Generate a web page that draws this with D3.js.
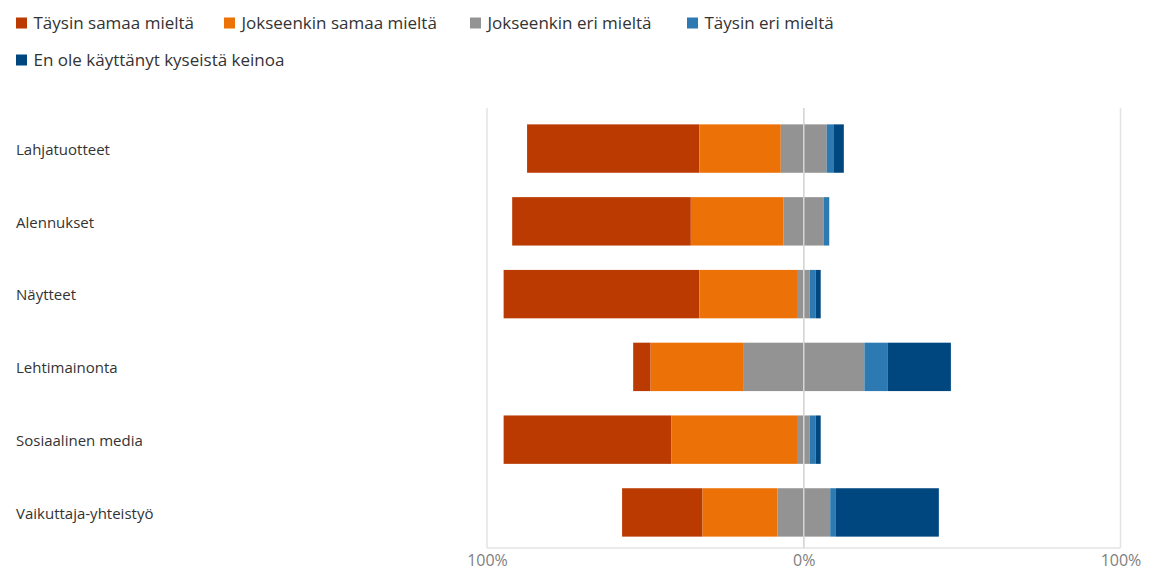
<!DOCTYPE html>
<html>
<head>
<meta charset="utf-8">
<script src="https://cdn.jsdelivr.net/npm/d3@7"></script>
<style>
  body { margin: 0; background: #fff; }
  svg { font-family: "Open Sans", "Noto Sans", sans-serif; }
</style>
</head>
<body>
<div id="chart"></div>
<script>
const categories = ['Lahjatuotteet', 'Alennukset', 'Näytteet', 'Lehtimainonta', 'Sosiaalinen media', 'Vaikuttaja-yhteistyö'];
const seriesNames = ['Täysin samaa mieltä', 'Jokseenkin samaa mieltä', 'Jokseenkin eri mieltä', 'Täysin eri mieltä', 'En ole käyttänyt kyseistä keinoa'];
const taysinSamaa = [54.4, 56.4, 61.8, 5.5, 52.9, 25.4];
const jokseenkinSamaa = [25.7, 29.3, 31.1, 29.2, 40.0, 23.6];
const jokseenkinEri = [14.5, 12.7, 3.7, 38.3, 3.7, 16.7];
const taysinEri = [2.1, 1.7, 1.9, 7.4, 1.9, 1.8];
const eiKaytetty = [3.3, 0, 1.6, 19.9, 1.6, 32.5];
const xTicks = [-100, 0, 100];
const colors = ['#BA3A02', '#EC7106', '#939393', '#2D79B1', '#00467F'];

const width = 1154, height = 572;
const svg = d3.select('#chart').append('svg')
  .attr('width', width)
  .attr('height', height);

const series = [taysinSamaa, jokseenkinSamaa, jokseenkinEri, taysinEri, eiKaytetty];

// "jokseenkin eri" is split across zero
const rows = categories.map((c, i) => {
  let start = -(taysinSamaa[i] + jokseenkinSamaa[i] + jokseenkinEri[i] / 2);
  return series.map((s, k) => {
    const seg = { cat: c, k: k, x0: start, x1: start + s[i] };
    start += s[i];
    return seg;
  });
});

const xScale = d3.scaleLinear().domain([-100, 100]).range([487, 1120.5]);
const yScale = d3.scaleBand().domain(categories).range([112, 549]).paddingInner(0.335).paddingOuter(0.17);

// legend
const legendPos = [[16, 23], [224, 23], [470, 23], [687, 23], [16, 60]];
const legend = svg.append('g');
seriesNames.forEach((n, k) => {
  const g = legend.append('g').attr('transform', `translate(${legendPos[k][0]},${legendPos[k][1]})`);
  g.append('rect').attr('x', 0).attr('y', -5.5).attr('width', 11).attr('height', 11).attr('fill', colors[k]);
  g.append('text').attr('x', 17.5).attr('y', 0).attr('dy', '0.35em')
    .attr('font-size', 17).attr('fill', '#333').text(n);
});

// grid
const grid = svg.append('g');
grid.selectAll('line.v').data(xTicks).enter().append('line')
  .attr('x1', d => xScale(d)).attr('x2', d => xScale(d))
  .attr('y1', 108).attr('y2', 548)
  .attr('stroke', '#e3e3e3').attr('stroke-width', 1.5);
grid.append('line')
  .attr('x1', xScale(-100)).attr('x2', xScale(100))
  .attr('y1', 548).attr('y2', 548)
  .attr('stroke', '#e3e3e3').attr('stroke-width', 1.5);

// bars
svg.append('g').selectAll('g').data(rows).enter().append('g')
  .selectAll('rect').data(d => d).enter().append('rect')
    .attr('x', d => xScale(d.x0))
    .attr('width', d => Math.max(0, xScale(d.x1) - xScale(d.x0)))
    .attr('y', d => yScale(d.cat))
    .attr('height', yScale.bandwidth())
    .attr('fill', d => colors[d.k]);

// zero line over bars
svg.append('line')
  .attr('x1', xScale(0)).attr('x2', xScale(0))
  .attr('y1', 108).attr('y2', 548)
  .attr('stroke', '#d6d6d6').attr('stroke-width', 1.5);

// category labels
svg.append('g').selectAll('text').data(categories).enter().append('text')
  .attr('x', 16)
  .attr('y', d => yScale(d) + yScale.bandwidth() / 2 + 1)
  .attr('dy', '0.35em')
  .attr('font-size', 15)
  .attr('fill', '#333')
  .text(d => d);

// x axis
const xAxis = d3.axisBottom(xScale)
  .tickValues(xTicks)
  .tickSize(0)
  .tickPadding(7)
  .tickFormat(d => Math.abs(d) + '%');
const xAxisG = svg.append('g').attr('transform', 'translate(0,548)').call(xAxis);
xAxisG.select('.domain').remove();
xAxisG.selectAll('text')
  .attr('font-size', 16)
  .attr('font-family', '"Open Sans", sans-serif')
  .attr('fill', '#808080');
</script>
</body>
</html>
